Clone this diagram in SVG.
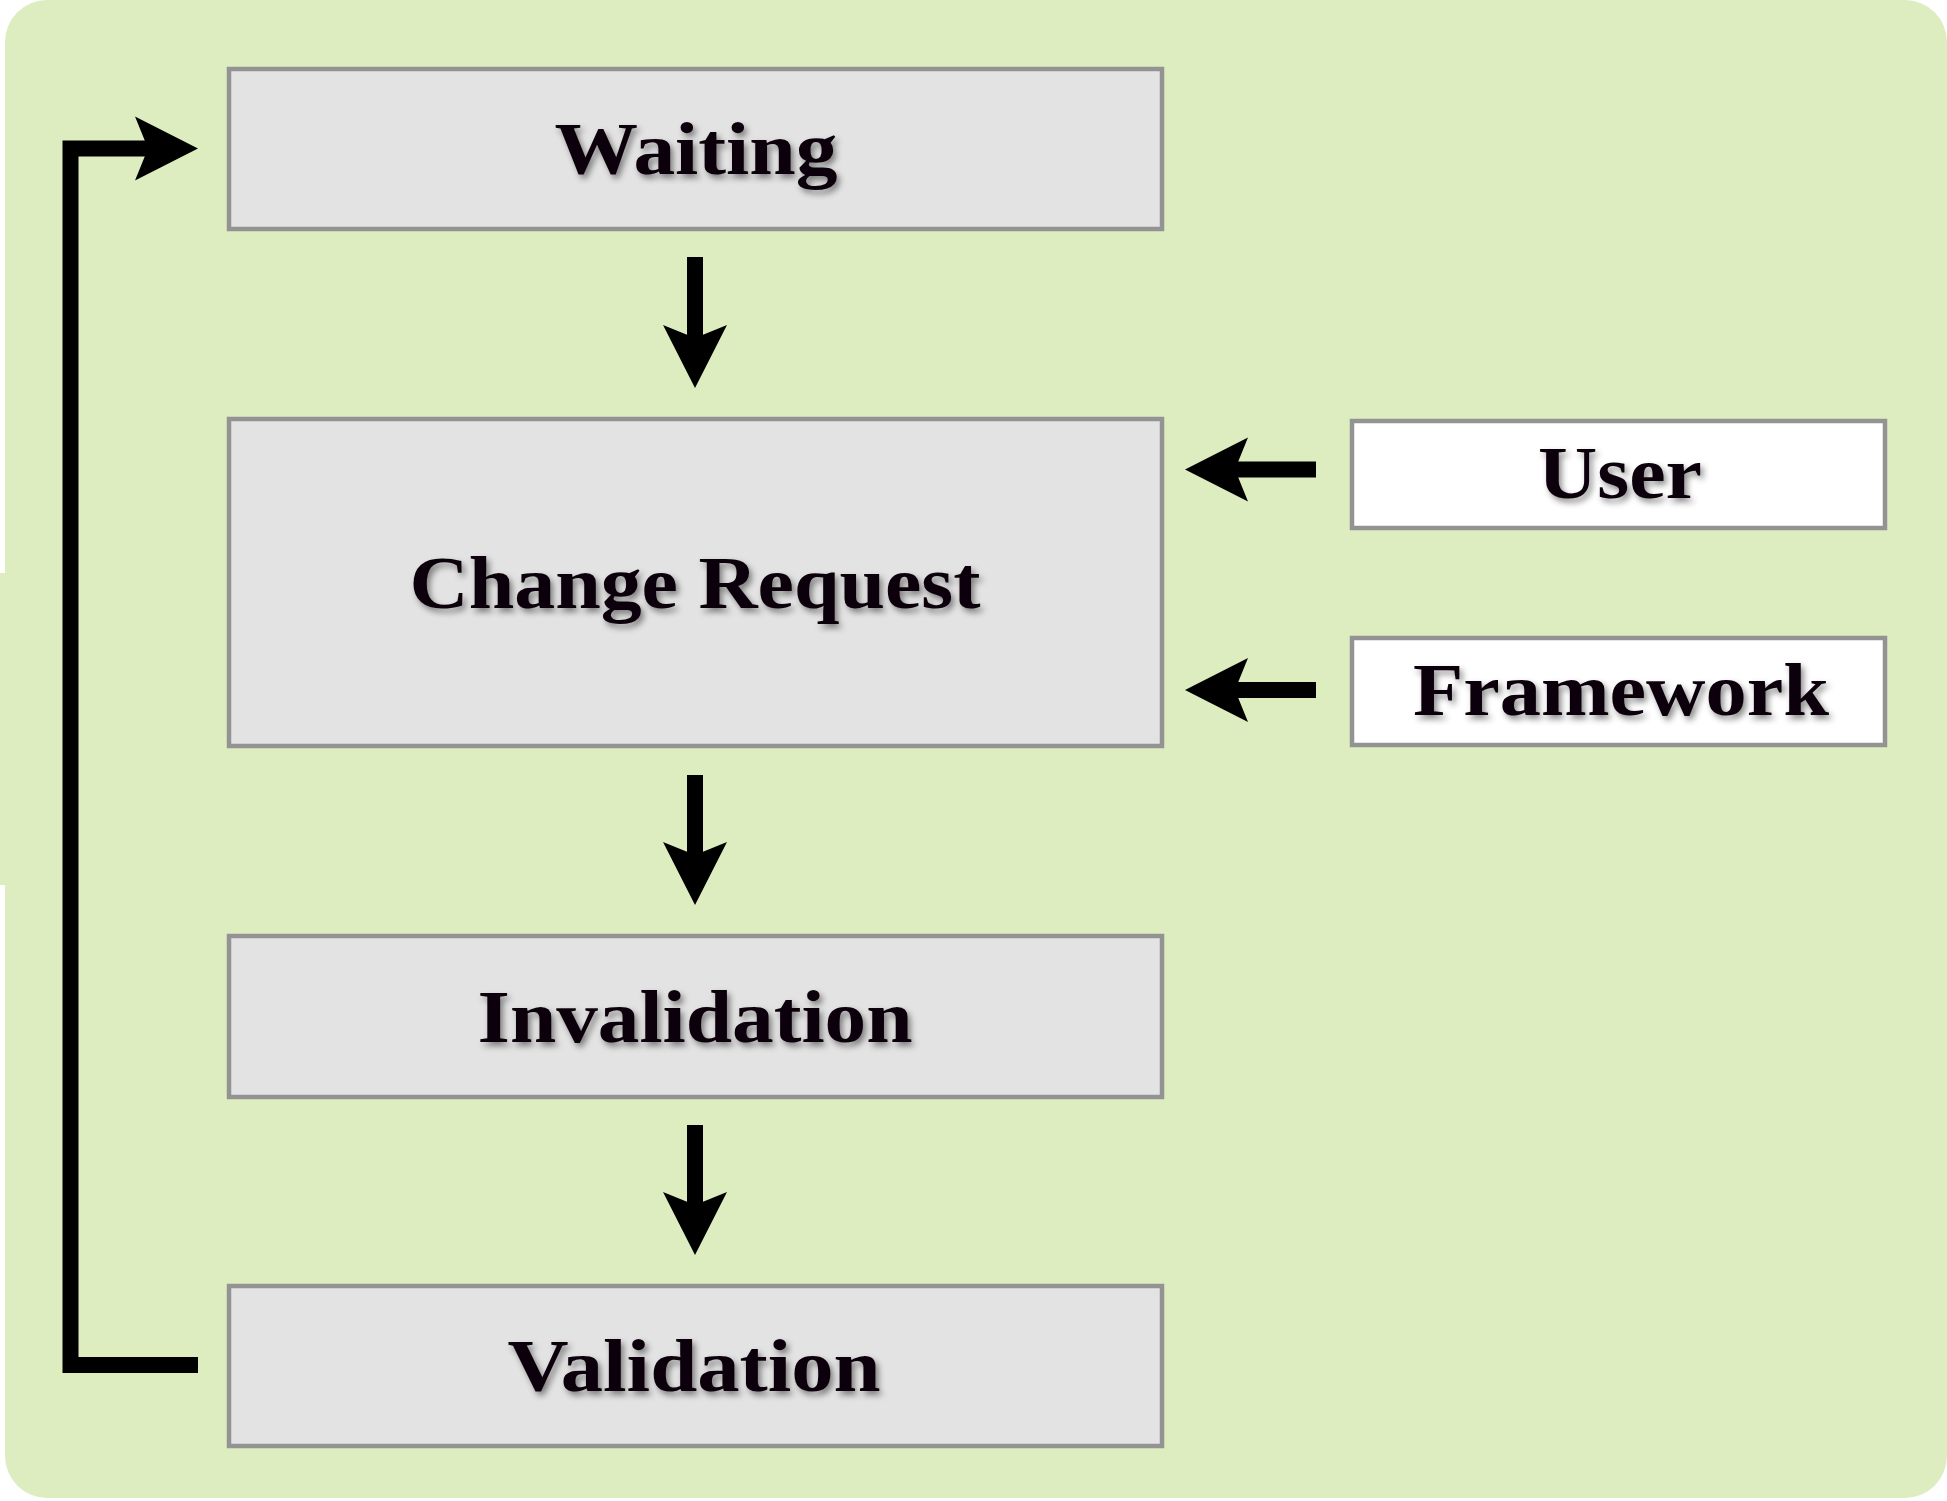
<svg xmlns="http://www.w3.org/2000/svg" width="1947" height="1501" viewBox="0 0 1947 1501">
  <style>
    .stage { fill: #ddedbf; }
    .box { fill: #e3e3e3; stroke: #939393; stroke-width: 4.5; }
    .src { fill: #ffffff; stroke: #939393; stroke-width: 4.5; }
    .label { font-family: "Liberation Serif", "Times New Roman", serif; font-weight: bold; font-size: 75px; fill: #0e0309; text-anchor: middle; filter: url(#shadow); }
    .wire { fill: none; stroke: #000000; stroke-width: 16; stroke-linejoin: miter; stroke-linecap: butt; }
  </style>
  <defs>
    <filter id="shadow" x="-10%" y="-30%" width="120%" height="160%">
      <feDropShadow dx="3" dy="4" stdDeviation="3" flood-color="#000000" flood-opacity="0.45"/>
    </filter>
    <marker id="head" markerUnits="userSpaceOnUse" viewBox="0 0 64 70" markerWidth="64" markerHeight="70" refX="20" refY="35" orient="auto">
      <path d="M0,3 L63,35 L0,67 L13,35 Z" fill="#000000"/>
    </marker>
  </defs>

  <!-- backdrop -->
  <rect width="1947" height="1501" fill="#ffffff"/>
  <rect class="stage" x="5" y="0" width="1942" height="1498" rx="42" ry="42"/>
  <rect class="stage" x="0" y="573" width="8" height="312"/>

  <!-- connectors -->
  <g id="connectors">
    <path class="wire" d="M695,257 V345" marker-end="url(#head)"/>
    <path class="wire" d="M695,775 V862" marker-end="url(#head)"/>
    <path class="wire" d="M695,1125 V1212" marker-end="url(#head)"/>
    <path class="wire" d="M1316,469.5 H1228" marker-end="url(#head)"/>
    <path class="wire" d="M1316,690 H1228" marker-end="url(#head)"/>
    <path class="wire" d="M198,1365 H70.5 V148.5 H155" marker-end="url(#head)"/>
  </g>

  <!-- nodes -->
  <g id="waiting">
    <rect class="box" x="229" y="69" width="933" height="160"/>
    <text class="label" x="696" y="174" textLength="283" lengthAdjust="spacingAndGlyphs">Waiting</text>
  </g>
  <g id="change-request">
    <rect class="box" x="229" y="419" width="933" height="327"/>
    <text class="label" x="695" y="608" textLength="571" lengthAdjust="spacingAndGlyphs">Change Request</text>
  </g>
  <g id="invalidation">
    <rect class="box" x="229" y="936" width="933" height="161"/>
    <text class="label" x="695" y="1042" textLength="435" lengthAdjust="spacingAndGlyphs">Invalidation</text>
  </g>
  <g id="validation">
    <rect class="box" x="229" y="1286" width="933" height="160"/>
    <text class="label" x="694" y="1391" textLength="373" lengthAdjust="spacingAndGlyphs">Validation</text>
  </g>
  <g id="user">
    <rect class="src" x="1352" y="421" width="533" height="107"/>
    <text class="label" x="1620" y="498" textLength="164" lengthAdjust="spacingAndGlyphs">User</text>
  </g>
  <g id="framework">
    <rect class="src" x="1352" y="638" width="533" height="107"/>
    <text class="label" x="1621" y="715" textLength="416" lengthAdjust="spacingAndGlyphs">Framework</text>
  </g>
</svg>
